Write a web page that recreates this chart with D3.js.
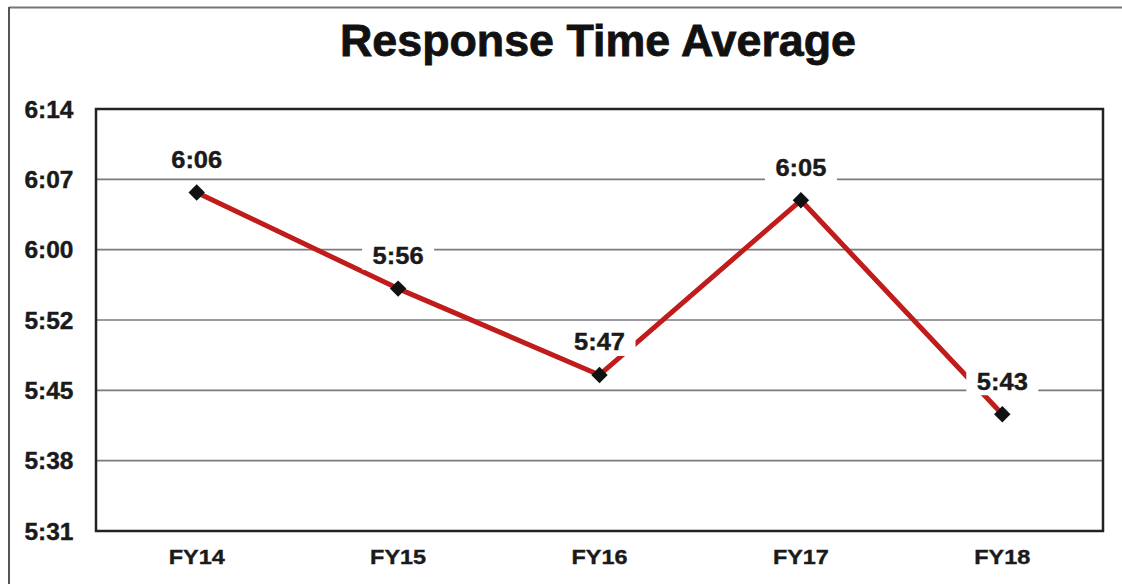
<!DOCTYPE html>
<html>
<head>
<meta charset="utf-8">
<script src="https://cdn.jsdelivr.net/npm/d3@7"></script>
<style>
  html, body { margin: 0; padding: 0; background: #fff; }
  svg { display: block; font-family: "Liberation Sans", Arial, sans-serif; }
</style>
</head>
<body>
<svg id="chart" width="1122" height="584"></svg>
<script>
// Data
const categories = ["FY14", "FY15", "FY16", "FY17", "FY18"];
// response time in seconds
const responseSeconds = [365.5, 355.7, 346.9, 364.7, 342.9];
const valueLabels = ["6:06", "5:56", "5:47", "6:05", "5:43"];
const yTickLabels = ["5:31", "5:38", "5:45", "5:52", "6:00", "6:07", "6:14"];
const yDomain = [331, 374];

const svg = d3.select("#chart");
const W = 1122, H = 584;
const plot = { left: 96, right: 1103, top: 109, bottom: 531 };

// outer frame (top and left only visible)
svg.append("line").attr("x1", 9).attr("x2", W).attr("y1", 7.5).attr("y2", 7.5)
  .attr("stroke", "#777").attr("stroke-width", 2);
svg.append("line").attr("x1", 9).attr("x2", 9).attr("y1", 7).attr("y2", H)
  .attr("stroke", "#555").attr("stroke-width", 2);

// title
svg.append("text").attr("x", 598).attr("y", 56)
  .attr("text-anchor", "middle")
  .attr("font-size", 44).attr("font-weight", "bold")
  .attr("fill", "#111").attr("stroke", "#111").attr("stroke-width", 0.8)
  .attr("textLength", 516).attr("lengthAdjust", "spacingAndGlyphs")
  .text("Response Time Average");

const x = d3.scaleBand().domain(categories).range([plot.left, plot.right]);
const y = d3.scaleLinear().domain(yDomain).range([plot.bottom, plot.top]);

const tickVals = yTickLabels.map((_, i) => yDomain[0] + i * (yDomain[1] - yDomain[0]) / (yTickLabels.length - 1));

// gridlines
svg.append("g").selectAll("line").data(tickVals.slice(1, -1)).join("line")
  .attr("x1", plot.left).attr("x2", plot.right)
  .attr("y1", d => y(d)).attr("y2", d => y(d))
  .attr("stroke", "#7a7a80").attr("stroke-width", 1.6);

// y axis labels
const yAxis = d3.axisLeft(y).tickValues(tickVals)
  .tickFormat((d, i) => yTickLabels[i]).tickSize(0).tickPadding(0);
const gy = svg.append("g").attr("transform", `translate(49,0)`).call(yAxis);
gy.select(".domain").remove();
gy.selectAll("text").attr("font-size", 23).attr("font-weight", "bold")
  .attr("fill", "#1a1a1a").attr("stroke", "#1a1a1a").attr("stroke-width", 0.4)
  .attr("font-family", "Liberation Sans, Arial, sans-serif")
  .attr("text-anchor", "middle").attr("dy", "0.35em")
  .attr("textLength", 49).attr("lengthAdjust", "spacingAndGlyphs");

// x axis labels
const xAxis = d3.axisBottom(x).tickSize(0).tickPadding(0);
const gx = svg.append("g").attr("transform", `translate(0,${plot.bottom + 26})`).call(xAxis);
gx.select(".domain").remove();
gx.selectAll("text").attr("font-size", 21).attr("font-weight", "bold")
  .attr("fill", "#1a1a1a").attr("stroke", "#1a1a1a").attr("stroke-width", 0.4)
  .attr("font-family", "Liberation Sans, Arial, sans-serif")
  .attr("dy", "0.35em")
  .attr("textLength", 56).attr("lengthAdjust", "spacingAndGlyphs");

// plot border
svg.append("rect").attr("x", plot.left).attr("y", plot.top)
  .attr("width", plot.right - plot.left).attr("height", plot.bottom - plot.top)
  .attr("fill", "none").attr("stroke", "#222").attr("stroke-width", 2.5);

const cx = c => x(c) + x.bandwidth() / 2;

// line
const line = d3.line().x((d, i) => cx(categories[i])).y(d => y(d));
svg.append("path").datum(responseSeconds).attr("d", line)
  .attr("fill", "none").attr("stroke", "#c01c1c").attr("stroke-width", 5)
  .attr("stroke-linejoin", "round");

// markers
svg.append("g").selectAll("path").data(responseSeconds).join("path")
  .attr("d", d3.symbol(d3.symbolSquare, 135))
  .attr("transform", (d, i) => `translate(${cx(categories[i])},${y(d)}) rotate(45)`)
  .attr("fill", "#111");

// value labels with white boxes
const lab = svg.append("g").selectAll("g").data(responseSeconds).join("g")
  .attr("transform", (d, i) => `translate(${cx(categories[i])},${y(d) - 33})`);
lab.append("rect").attr("x", -36).attr("y", -16).attr("width", 72).attr("height", 30)
  .attr("fill", "#fff");
lab.append("text").attr("text-anchor", "middle").attr("dy", "0.35em")
  .attr("font-size", 24).attr("font-weight", "bold")
  .attr("fill", "#1a1a1a").attr("stroke", "#1a1a1a").attr("stroke-width", 0.4)
  .attr("textLength", 51).attr("lengthAdjust", "spacingAndGlyphs")
  .text((d, i) => valueLabels[i]);
</script>
</body>
</html>
